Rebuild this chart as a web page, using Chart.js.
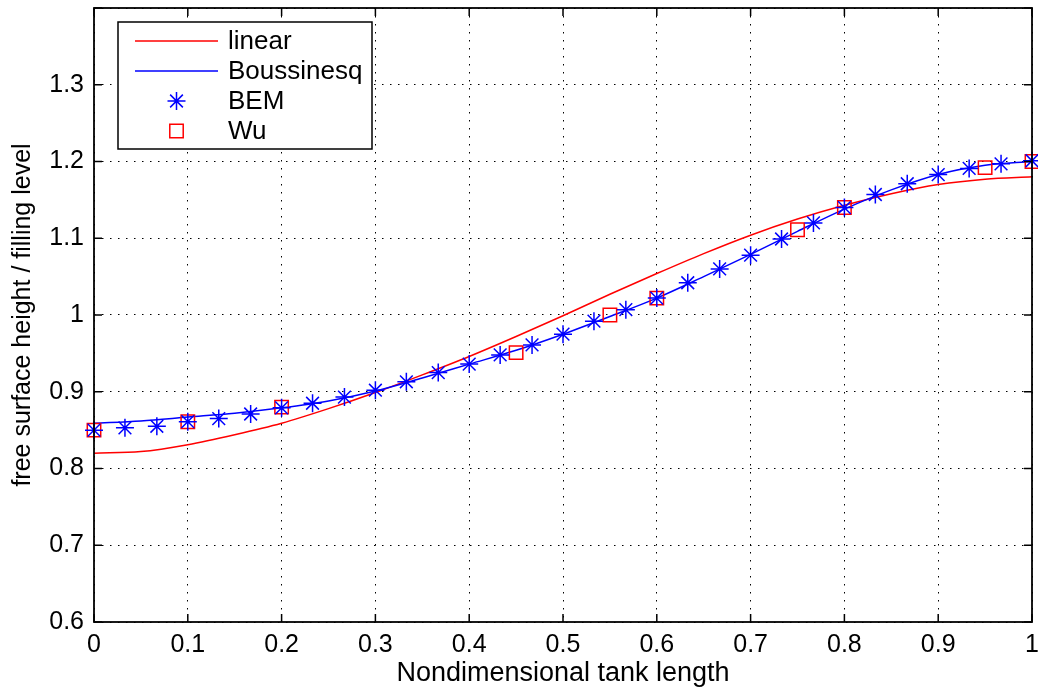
<!DOCTYPE html>
<html>
<head>
<meta charset="utf-8">
<script src="https://cdn.jsdelivr.net/npm/chart.js@4.4.0/dist/chart.umd.min.js"></script>
<style>
  html, body { margin: 0; padding: 0; background: #fff; overflow: hidden; }
  #wrap { width: 1038px; height: 691px; }
</style>
</head>
<body>
<div id="wrap"><canvas id="myChart"></canvas></div>
<script>
// curves
const lineX = [0, 0.05, 0.1, 0.15, 0.2, 0.25, 0.3, 0.35, 0.4, 0.45, 0.5, 0.55, 0.6, 0.65, 0.7, 0.75, 0.8, 0.85, 0.9, 0.95, 1];
const linearY = [0.820, 0.822, 0.831, 0.844, 0.859, 0.878, 0.899, 0.922, 0.946, 0.972, 0.999, 1.027, 1.054, 1.080, 1.104, 1.125, 1.143, 1.158, 1.170, 1.177, 1.180];
const boussinesqY = [0.859, 0.862, 0.867, 0.872, 0.879, 0.888, 0.901, 0.918, 0.936, 0.954, 0.975, 0.998, 1.022, 1.050, 1.079, 1.109, 1.138, 1.163, 1.183, 1.195, 1.200];

// BEM markers
const bemX = [0, 0.033, 0.067, 0.1, 0.133, 0.167, 0.2, 0.233, 0.267, 0.3, 0.333, 0.367, 0.4, 0.433, 0.467, 0.5,
  0.533, 0.567, 0.6, 0.633, 0.667, 0.7, 0.733, 0.767, 0.8, 0.833, 0.867, 0.9, 0.933, 0.967, 1];
const bemY = [0.850, 0.853, 0.855, 0.861, 0.865, 0.871, 0.879, 0.885, 0.893, 0.902, 0.913, 0.925, 0.936, 0.948, 0.961, 0.975,
  0.992, 1.007, 1.022, 1.042, 1.060, 1.078, 1.099, 1.120, 1.140, 1.157, 1.171, 1.183, 1.191, 1.197, 1.201];

// Wu markers
const wuX = [0, 0.1, 0.2, 0.45, 0.55, 0.6, 0.75, 0.8, 0.95, 1];
const wuY = [0.850, 0.861, 0.880, 0.951, 1.000, 1.022, 1.111, 1.140, 1.192, 1.200];

const legendLabels = ['linear', 'Boussinesq', 'BEM', 'Wu'];

const RED = '#ff0000';
const BLUE = '#0000ff';
const FONT = '"Liberation Sans", Arial, Helvetica, sans-serif';

function toPoints(xs, ys) {
  return xs.map((x, i) => ({ x: x, y: ys[i] }));
}

function fmt(v) {
  return String(parseFloat(Number(v).toFixed(2)));
}

// frame, inward ticks and legend like the matlab figure
const matlabFrame = {
  id: 'matlabFrame',
  afterDraw(chart) {
    const ctx = chart.ctx;
    const a = chart.chartArea;
    const xs = chart.scales.x;
    const ys = chart.scales.y;
    const tl = 8;

    ctx.save();
    ctx.strokeStyle = '#000';
    ctx.lineWidth = 1.5;
    ctx.setLineDash([]);
    ctx.beginPath();
    xs.ticks.forEach(t => {
      const px = xs.getPixelForValue(t.value);
      ctx.moveTo(px, a.bottom); ctx.lineTo(px, a.bottom - tl);
      ctx.moveTo(px, a.top); ctx.lineTo(px, a.top + tl);
    });
    ys.ticks.forEach(t => {
      const py = ys.getPixelForValue(t.value);
      ctx.moveTo(a.left, py); ctx.lineTo(a.left + tl, py);
      ctx.moveTo(a.right, py); ctx.lineTo(a.right - tl, py);
    });
    ctx.stroke();
    ctx.lineWidth = 1.8;
    ctx.strokeRect(a.left, a.top, a.right - a.left, a.bottom - a.top);

    // legend box
    const bx = a.left + 24, by = a.top + 14, bw = 254, bh = 127;
    ctx.fillStyle = '#fff';
    ctx.fillRect(bx, by, bw, bh);
    ctx.lineWidth = 1.5;
    ctx.strokeRect(bx, by, bw, bh);

    const rowY = [by + 19, by + 49, by + 79, by + 109];
    const sx0 = bx + 17, sx1 = bx + 100, tx = bx + 110;
    ctx.font = '26px ' + FONT;
    ctx.textBaseline = 'middle';
    ctx.textAlign = 'left';
    chart.data.datasets.forEach((ds, i) => {
      const yy = rowY[i];
      ctx.strokeStyle = ds.borderColor;
      ctx.lineWidth = ds.borderWidth;
      if (ds.pointRadius === 0) {
        ctx.beginPath();
        ctx.moveTo(sx0, yy); ctx.lineTo(sx1, yy);
        ctx.stroke();
      } else {
        ctx.fillStyle = 'rgba(0,0,0,0)';
        Chart.helpers.drawPoint(ctx, { pointStyle: ds.pointStyle, radius: ds.pointRadius, rotation: 0, borderWidth: ds.borderWidth }, (sx0 + sx1) / 2, yy);
      }
      ctx.fillStyle = '#000';
      ctx.fillText(ds.label, tx, yy + 1);
    });
    ctx.restore();
  }
};

// no extra room for edge labels: the plot box fills the figure like matlab
function noEdgePadding(scale) {
  scale.paddingTop = 0;
  scale.paddingBottom = 0;
  scale.paddingLeft = 0;
  scale.paddingRight = 0;
}

const config = {
  type: 'scatter',
  data: {
    datasets: [
      {
        label: legendLabels[0],
        data: toPoints(lineX, linearY),
        showLine: true,
        borderColor: RED,
        backgroundColor: RED,
        borderWidth: 1.5,
        pointRadius: 0,
        cubicInterpolationMode: 'monotone',
        order: 3,
      },
      {
        label: legendLabels[1],
        data: toPoints(lineX, boussinesqY),
        showLine: true,
        borderColor: BLUE,
        backgroundColor: BLUE,
        borderWidth: 1.5,
        pointRadius: 0,
        cubicInterpolationMode: 'monotone',
        order: 2,
      },
      {
        label: legendLabels[2],
        data: toPoints(bemX, bemY),
        showLine: false,
        borderColor: BLUE,
        backgroundColor: 'rgba(0,0,0,0)',
        borderWidth: 1.5,
        pointStyle: 'star',
        pointRadius: 9,
        clip: false,
        order: 0,
      },
      {
        label: legendLabels[3],
        data: toPoints(wuX, wuY),
        showLine: false,
        borderColor: RED,
        backgroundColor: 'rgba(0,0,0,0)',
        borderWidth: 1.5,
        pointStyle: 'rect',
        pointRadius: 9.5,
        clip: false,
        order: 1,
      },
    ],
  },
  options: {
    responsive: true,
    maintainAspectRatio: false,
    animation: false,
    events: [],
    layout: { autoPadding: false, padding: { top: 8, right: 6, left: 0, bottom: 0 } },
    plugins: {
      legend: { display: false },
      tooltip: { enabled: false },
    },
    scales: {
      x: {
        type: 'linear',
        min: 0,
        max: 1,
        afterFit(scale) {
          scale.height = 69;
          noEdgePadding(scale);
        },
        ticks: {
          stepSize: 0.1,
          padding: 8,
          color: '#000',
          font: { family: FONT, size: 25 },
          maxRotation: 0,
          callback: v => fmt(v),
        },
        grid: { color: '#000', lineWidth: 1, drawTicks: false },
        border: { display: false, dash: [1.5, 6.5] },
        title: {
          display: true,
          text: 'Nondimensional tank length',
          color: '#000',
          font: { family: FONT, size: 27 },
          padding: { top: 0, bottom: 1 },
        },
      },
      y: {
        min: 0.6,
        max: 1.4,
        afterFit(scale) {
          scale.width = 94;
          noEdgePadding(scale);
        },
        ticks: {
          stepSize: 0.1,
          padding: 10,
          color: '#000',
          font: { family: FONT, size: 25 },
          callback: v => (v > 1.35 ? '' : fmt(v)),
        },
        grid: { color: '#000', lineWidth: 1, drawTicks: false },
        border: { display: false, dash: [1.5, 6.5] },
        title: {
          display: true,
          text: 'free surface height / filling level',
          color: '#000',
          font: { family: FONT, size: 25 },
          padding: { top: 8, bottom: 0 },
        },
      },
    },
  },
  plugins: [matlabFrame],
};

new Chart(document.getElementById('myChart'), config);
</script>
</body>
</html>
